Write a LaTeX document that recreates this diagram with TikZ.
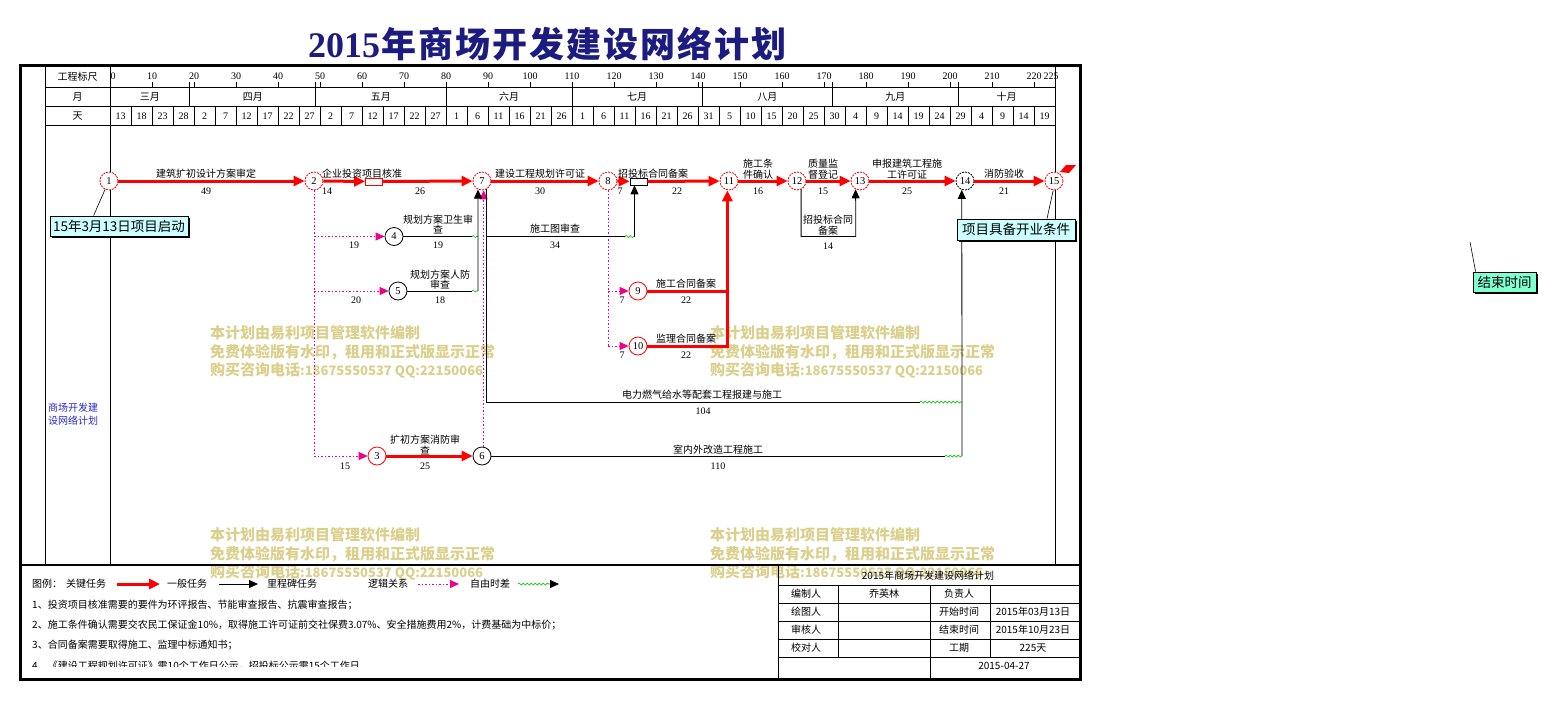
\documentclass[tikz,border=0pt]{standalone}
\usepackage{fontspec}
\setmainfont{Noto Sans CJK SC}
\newfontfamily\lser{Liberation Serif}
\usetikzlibrary{arrows.meta,decorations.pathmorphing,shadows,calc}
\definecolor{wm}{RGB}{218,208,140}
\definecolor{tnavy}{RGB}{28,28,128}
\definecolor{lcyan}{RGB}{204,255,255}
\definecolor{mint}{RGB}{128,255,208}
\definecolor{lblue}{RGB}{40,40,200}
\definecolor{wgreen}{RGB}{0,200,0}
\newcommand\ttlsp{\hspace{2pt}}
\begin{document}
\begin{tikzpicture}[x=1pt,y=-1pt,
  lab/.style={font=\fontsize{10}{10.5}\selectfont, inner sep=0pt, align=center},
  num/.style={font=\lser\fontsize{10}{11}\selectfont, inner sep=0pt},
  cnode/.style={circle, minimum size=18pt, inner sep=0pt, fill=white, line width=0.8pt, font=\lser\fontsize{10.5}{11}\selectfont},
  critn/.style={cnode, draw=red, dash pattern=on 2pt off 1pt},
  critsn/.style={cnode, draw=red},
  normn/.style={cnode, draw=black},
  normdn/.style={cnode, draw=black, dash pattern=on 2pt off 1pt},
  crit/.style={draw=red, line width=3pt, -{Triangle[length=11pt,width=10pt]}},
  critl/.style={draw=red, line width=3pt},
  norm/.style={draw=black, line width=0.8pt},
  normA/.style={norm, -{Triangle[length=9pt,width=8pt]}},
  logic/.style={draw=magenta, line width=0.8pt, dash pattern=on 1.5pt off 2pt},
  logicA/.style={logic, -{Triangle[length=9pt,width=8pt]}},
  slack/.style={draw=wgreen, line width=0.7pt, decorate, decoration={snake, amplitude=1pt, segment length=4pt}},
  mbox/.style={draw, fill=white, minimum width=17pt, minimum height=7pt, inner sep=0pt, line width=0.7pt},
  callout/.style={draw=black, line width=0.8pt, inner sep=2pt, font=\fontsize{13.5}{14}\selectfont, drop shadow={shadow xshift=2pt, shadow yshift=-2pt, fill=black, opacity=1}},
  wmark/.style={text=wm, font=\bfseries\fontsize{15}{18}\selectfont, anchor=west, inner sep=0pt},
  grid/.style={draw=black, line width=0.7pt}
]
\useasboundingbox (0,0) rectangle (1552,702);
\fill[white] (0,0) rectangle (1552,702);

% title
\node[anchor=base west, inner sep=0pt, text=tnavy] (title) at (308,57)
 {\lser\bfseries\fontsize{36}{36}\selectfont 2015\hspace{1pt}\normalfont\bfseries\fontsize{35}{35}\selectfont 年\ttlsp 商\ttlsp 场\ttlsp 开\ttlsp 发\ttlsp 建\ttlsp 设\ttlsp 网\ttlsp 络\ttlsp 计\ttlsp 划};

% watermarks
\foreach \wx/\wy in {210/333, 710/333, 210/535, 710/535}{
  \node[wmark] at (\wx,\wy) {本计划由易利项目管理软件编制};
  \node[wmark] at (\wx,\wy+19) {免费体验版有水印，租用和正式版显示正常};
  \node[wmark] at (\wx,\wy+37) {购买咨询电话\fontsize{13}{18}\selectfont :18675550537 QQ:22150066};
}

% grid
\draw[grid] (45,65.5) -- (45,565);
\draw[grid] (110,65.5) -- (110,565);
\draw[grid] (1055,65.5) -- (1055,565);
\foreach \yy in {87,106,125} \draw[grid] (45,\yy) -- (1055,\yy);
\node[lab] at (77.5,77) {工程标尺};
\node[lab] at (77.5,97) {月};
\node[lab] at (77.5,116) {天};
% scale row
\node[num, anchor=west] at (110.5,76) {0};
\foreach \d in {10,20,...,220} \node[num] at ({110+4.2*\d},76) {\d};
\node[num] at (1051,76) {225};
\foreach \d in {0,10,...,220} \draw[grid] ({110+4.2*\d},82) -- ({110+4.2*\d},87);
% month row
\foreach \d in {19,49,80,110,141,172,202} \draw[grid] ({110+4.2*\d},82) -- ({110+4.2*\d},106);
\foreach \a/\b/\m in {0/19/三月,19/49/四月,49/80/五月,80/110/六月,110/141/七月,141/172/八月,172/202/九月,202/225/十月}
  \node[lab] at ({110+2.1*(\a+\b)},97) {\m};
% day row
\foreach \i in {1,...,44} \draw[grid] ({110+21*\i},106) -- ({110+21*\i},125);
\foreach \v [count=\i from 0] in {13,18,23,28,2,7,12,17,22,27,2,7,12,17,22,27,1,6,11,16,21,26,1,6,11,16,21,26,31,5,10,15,20,25,30,4,9,14,19,24,29,4,9,14,19}
  \node[num] at ({120.5+21*\i},116) {\v};

\node[lab, text=lblue, font=\fontsize{10}{13}\selectfont] at (73,414) {商场开发建\\设网络计划};

% nodes
\node[critn] (n1) at (109,181) {1};
\node[critn] (n2) at (314,181) {2};
\node[critsn] (n3) at (377,456) {3};
\node[normn] (n4) at (394,236.5) {4};
\node[normn] (n5) at (398,291) {5};
\node[normn] (n6) at (482,456) {6};
\node[critn] (n7) at (482,181) {7};
\node[critn] (n8) at (608,181) {8};
\node[critsn] (n9) at (638,291) {9};
\node[critsn] (n10) at (638,346) {10};
\node[critn] (n11) at (729,181) {11};
\node[critn] (n12) at (797,181) {12};
\node[critn] (n13) at (860,181) {13};
\node[normdn] (n14) at (965,181) {14};
\node[critn] (n15) at (1054,181) {15};
\node[mbox, draw=red] (m1) at (374,181.5) {};
\node[mbox] (m2) at (638.5,181.5) {};

% helper coordinates
\coordinate (s4) at (472,236.5);
\coordinate (j4) at (478,236.5);
\coordinate (s5) at (472,291);
\coordinate (j5) at (478,291);
\coordinate (s8) at (625,236.5);
\coordinate (j8) at (634.5,236.5);
\coordinate (e1) at (920,402);
\coordinate (e2) at (962,402);
\coordinate (e3) at (945,456);
\coordinate (e4) at (962,456);
\coordinate (c13) at (855.8,236.5);
\coordinate (r236) at (0,236.5);

% logic links
\draw[logic] (n2.south) -- (n2 |- n3);
\draw[logicA] (n2 |- n4) -- (n4);
\draw[logicA] (n2 |- n5) -- (n5);
\draw[logicA] (n2 |- n3) -- (n3);
\draw[logic] (n8.south) -- (n8 |- n10);
\draw[logicA] (n8 |- n9) -- (n9);
\draw[logicA] (n8 |- n10) -- (n10);
\draw[logicA] (n6.80) -- (n7.-80);

% normal tasks
\draw[norm] (n4) -- (s4);
\draw[slack] (s4) -- (j4);
\draw[norm] (n5) -- (s5);
\draw[slack] (s5) -- (j5);
\draw[normA] (j5) -- (n7.-115);
\draw[norm] (n7.-64) |- (e1);
\draw[slack] (e1) -- (e2);
\draw[norm] (n7.-64 |- r236) -- (s8);
\draw[slack] (s8) -- (j8);
\draw[normA] (j8) -- (j8 |- m2.south);
\draw[norm] (n6) -- (e3);
\draw[slack] (e3) -- (e4);
\draw[normA] (e4) -- (n14.-110);
\draw[normA] (n12.-64) |- (c13) -- (n13.-118);

% critical tasks
\draw[crit] (n1) -- (n2);
\draw[crit] (n2) -- (m1);
\draw[crit] (m1) -- (n7);
\draw[crit] (n7) -- (n8);
\draw[crit] (n8) -- (m2);
\draw[crit] (m2) -- (n11);
\draw[crit] (n11) -- (n12);
\draw[crit] (n12) -- (n13);
\draw[crit] (n13) -- (n14);
\draw[crit] (n14) -- (n15);
\draw[crit] (n3) -- (n6);
\draw[critl] (n9) -- (n11.-100 |- n9);
\draw[crit] (n10) -- (n11.-100 |- n10) -- (n11.-100);

% task labels
\node[lab] at (206,174) {建筑扩初设计方案审定};
\node[num] at (206,191) {49};
\node[lab] at (362,174) {企业投资项目核准};
\node[num] at (327,191) {14};
\node[num] at (420,191) {26};
\node[lab] at (540,174) {建设工程规划许可证};
\node[num] at (540,191) {30};
\node[lab] at (653,174) {招投标合同备案};
\node[num] at (620,191) {7};
\node[num] at (677,191) {22};
\node[lab] at (758,169) {施工条\\件确认};
\node[num] at (758,191) {16};
\node[lab] at (823,169) {质量监\\督登记};
\node[num] at (823,191) {15};
\node[lab] at (907,169) {申报建筑工程施\\工许可证};
\node[num] at (907,191) {25};
\node[lab] at (1004,174) {消防验收};
\node[num] at (1004,191) {21};
\node[lab] at (438,224.5) {规划方案卫生审\\查};
\node[num] at (438,245) {19};
\node[num] at (354,245) {19};
\node[lab] at (440,279.5) {规划方案人防\\审查};
\node[num] at (440,300) {18};
\node[num] at (356,300) {20};
\node[lab] at (555,229) {施工图审查};
\node[num] at (555,245) {34};
\node[lab] at (686,284) {施工合同备案};
\node[num] at (686,300) {22};
\node[num] at (622,300) {7};
\node[lab] at (686,339) {监理合同备案};
\node[num] at (686,355) {22};
\node[num] at (622,355) {7};
\node[lab] at (828,225) {招投标合同\\备案};
\node[num] at (828,246) {14};
\node[lab] at (702,395) {电力燃气给水等配套工程报建与施工};
\node[num] at (703,411) {104};
\node[lab] at (425,445) {扩初方案消防审\\查};
\node[num] at (425,466) {25};
\node[num] at (345,466) {15};
\node[lab] at (718,450) {室内外改造工程施工};
\node[num] at (718,466) {110};

% callouts
\node[callout, fill=lcyan, minimum width=138pt, minimum height=20pt] (c1) at (119,226) {15年3月13日项目启动};
\draw[line width=0.6pt] ($(c1.north west)+(44,0)$) -- (n1.-115);
\node[callout, fill=lcyan, minimum width=118pt, minimum height=21pt] (c2) at (1016,229.5) {项目具备开业条件};
\draw[line width=0.6pt] ($(c2.north)+(31,0)$) -- (n15.-95);
\fill[red] (1060,172) -- (1066,165) -- (1076,165) -- (1069,173) -- cycle;
\node[callout, fill=mint, minimum width=63pt, minimum height=20pt] (c3) at (1504.5,282) {结束时间};
\coordinate (c3t) at (1470,242);
\draw[line width=0.6pt] (c3t) -- ($(c3.north west)+(3,0)$);

% legend
\node[lab, anchor=west] at (32,584) {图例：};
\node[lab, anchor=west] at (66,584) {关键任务};
\coordinate (lg1) at (117,584); \coordinate (lg2) at (160,584);
\draw[crit] (lg1) -- (lg2);
\node[lab, anchor=west] at (167,584) {一般任务};
\coordinate (lg3) at (219,584); \coordinate (lg4) at (258,584);
\draw[normA] (lg3) -- (lg4);
\node[lab, anchor=west] at (267,584) {里程碑任务};
\node[lab, anchor=west] at (368,584) {逻辑关系};
\coordinate (lg5) at (418,584); \coordinate (lg6) at (459,584);
\draw[logicA] (lg5) -- (lg6);
\node[lab, anchor=west] at (470,584) {自由时差};
\coordinate (lg7) at (518,584); \coordinate (lg8) at (550,584); \coordinate (lg9) at (559,584);
\draw[slack] (lg7) -- (lg8);
\draw[normA] (lg8) -- (lg9);
\node[lab, anchor=west] at (32,605) {1、投资项目核准需要的要件为环评报告、节能审查报告、抗震审查报告；};
\node[lab, anchor=west] at (32,625) {2、施工条件确认需要交农民工保证金10\%，取得施工许可证前交社保费3.07\%、安全措施费用2\%，计费基础为中标价；};
\node[lab, anchor=west] at (32,645) {3、合同备案需要取得施工、监理中标通知书；};
\begin{scope}
\clip (20,655) rectangle (1080,666);
\node[lab, anchor=west] at (32,665.5) {4、《建设工程规划许可证》需10个工作日公示，招投标公示需15个工作日};
\end{scope}

% title block
\draw[grid] (778,565) -- (778,679);
\foreach \yy in {585,603,621,639,657} \draw[grid] (778,\yy) -- (1080,\yy);
\draw[grid] (838,585) -- (838,657);
\draw[grid] (930,585) -- (930,679);
\draw[grid] (990,585) -- (990,657);
\node[lab] at (928,576) {2015年商场开发建设网络计划};
\node[lab] at (806,594) {编制人};
\node[lab] at (884,594) {乔英林};
\node[lab] at (959,594) {负责人};
\node[lab] at (806,612) {绘图人};
\node[lab] at (959,612) {开始时间};
\node[lab] at (1033,612) {2015年03月13日};
\node[lab] at (806,630) {审核人};
\node[lab] at (959,630) {结束时间};
\node[lab] at (1033,630) {2015年10月23日};
\node[lab] at (806,648) {校对人};
\node[lab] at (959,648) {工期};
\node[lab] at (1033,648) {225天};
\node[lab] at (1004,666) {2015-04-27};

% frame
\draw[line width=2.5pt] (20,565) -- (1080,565);
\draw[line width=3pt] (20,65.5) rectangle (1080,679);
\end{tikzpicture}
\end{document}
